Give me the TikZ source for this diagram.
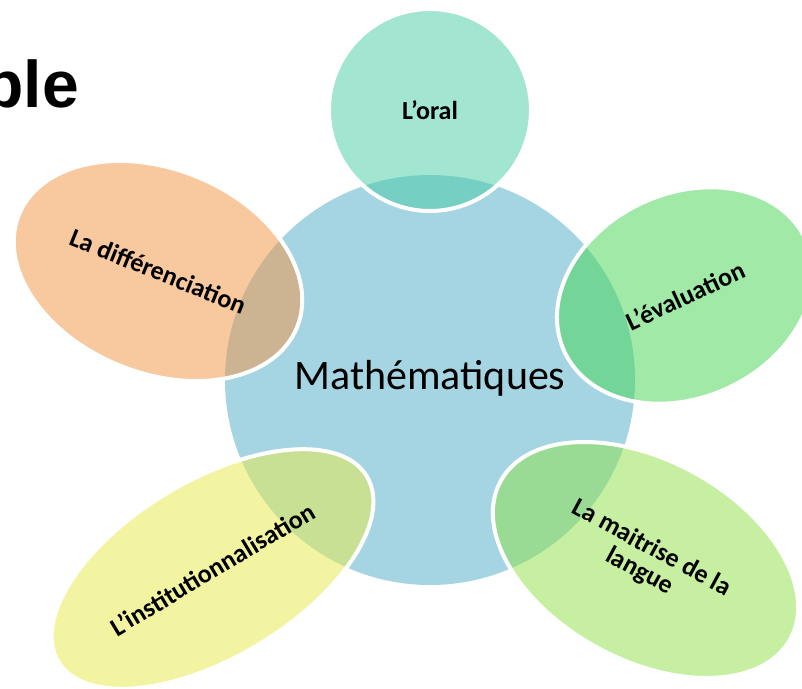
\documentclass[tikz,border=0pt]{standalone}
\usepackage{fontspec}
\setmainfont{Carlito}
\newfontfamily\arialfont{Liberation Sans}
\usetikzlibrary{shapes.geometric}
\definecolor{cblue}{RGB}{165,213,226}
\definecolor{coral}{RGB}{71,205,165}
\definecolor{corange}{RGB}{243,147,65}
\definecolor{ceval}{RGB}{69,213,81}
\definecolor{cmait}{RGB}{143,225,71}
\definecolor{cinst}{RGB}{233,235,71}
\tikzset{
  sat/.style={ellipse, draw=white, line width=4pt, fill opacity=0.5, draw opacity=1, text opacity=1, inner sep=0pt, font=\fontsize{26}{26}\selectfont\bfseries, align=center},
}
\begin{document}
\begin{tikzpicture}[x=1pt,y=1pt]
\clip (0,0) rectangle (802,688);
\fill[white] (0,0) rectangle (802,688);
\node[anchor=base east, inner sep=0pt, font=\arialfont\fontsize{66}{70}\selectfont\bfseries] (title) at (79,580) {ple};
\node[circle, fill=cblue, minimum size=410pt, inner sep=0pt] (math) at (430,308) {};
\node[sat, circle, fill=coral, minimum size=202pt] (oral) at (430,578) {L’oral};
\node[sat, fill=corange, minimum width=300pt, minimum height=204pt, rotate=-22] (diff) at (158,417) {La différenciation};
\node[sat, fill=ceval, minimum width=266pt, minimum height=204pt, rotate=25] (eval) at (685,392.5) {L’évaluation};
\node[sat, fill=cmait, minimum width=330pt, minimum height=200pt, rotate=-28.5] (mait) at (645.5,128) {La maitrise de la\\langue};
\node[sat, fill=cinst, minimum width=360pt, minimum height=177pt, rotate=31] (inst) at (212.5,119) {L’institutionnalisation};
\node[inner sep=0pt, font=\fontsize{42}{46}\selectfont] (mathlabel) at (430,310) {Mathématiques};
\end{tikzpicture}
\end{document}
